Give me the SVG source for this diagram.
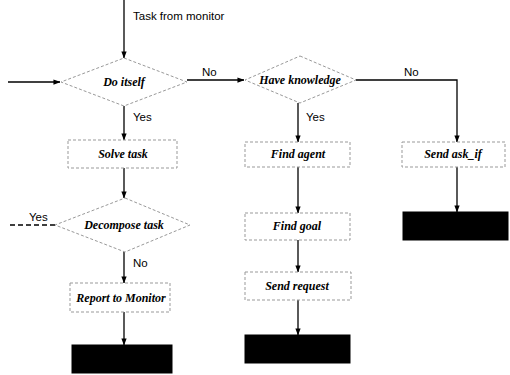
<svg xmlns="http://www.w3.org/2000/svg" width="510" height="375" viewBox="0 0 510 375">
<defs>
<marker id="ah" viewBox="0 0 8 8" refX="7.5" refY="4" markerWidth="7" markerHeight="7" orient="auto" markerUnits="userSpaceOnUse">
<path d="M0,1 L8,4 L0,7 Z" fill="#000"/>
</marker>
</defs>
<style>
.shape{fill:#fff;stroke:#999;stroke-width:1;stroke-dasharray:3 2}
.term{fill:#000;stroke:#000}
.node{font-family:"Liberation Serif","Times New Roman",serif;font-style:italic;font-weight:bold;font-size:12px;text-anchor:middle;fill:#000}
.lbl{font-family:"Liberation Sans",Arial,sans-serif;font-size:11.5px;fill:#000}
.edge{fill:none;stroke:#000;stroke-width:1.3}
.arr{marker-end:url(#ah)}
</style>
<rect width="510" height="375" fill="#fff"/>
<g id="connectors">
<line class="edge arr" x1="124" y1="0" x2="124" y2="58"/>
<line class="edge arr" x1="8" y1="82" x2="60" y2="82"/>
<line class="edge arr" x1="187" y1="80" x2="244" y2="80"/>
<polyline class="edge arr" points="356,80 457,80 457,142"/>
<line class="edge arr" x1="124" y1="106" x2="124" y2="140"/>
<line class="edge arr" x1="124" y1="168" x2="124" y2="198"/>
<line class="edge" x1="55" y1="225" x2="10" y2="225" stroke="#777" stroke-width="1" stroke-dasharray="5 3"/>
<line class="edge arr" x1="124" y1="252" x2="124" y2="283"/>
<line class="edge arr" x1="124" y1="312" x2="124" y2="345"/>
<line class="edge arr" x1="298" y1="103" x2="298" y2="142"/>
<line class="edge arr" x1="298" y1="167" x2="298" y2="213"/>
<line class="edge arr" x1="298" y1="240" x2="298" y2="272"/>
<line class="edge arr" x1="298" y1="300" x2="298" y2="335"/>
<line class="edge arr" x1="457" y1="167" x2="457" y2="212"/>
<text class="lbl" x="133" y="20">Task from monitor</text>
<text class="lbl" x="202" y="76">No</text>
<text class="lbl" x="404" y="76">No</text>
<text class="lbl" x="133" y="121">Yes</text>
<text class="lbl" x="306" y="121">Yes</text>
<text class="lbl" x="29" y="221">Yes</text>
<text class="lbl" x="133" y="267">No</text>
</g>
<g id="do-itself">
<polygon class="shape" points="124,58 187,82 124,106 61,82"/>
<text class="node" x="124" y="86">Do itself</text>
</g>
<g id="have-knowledge">
<polygon class="shape" points="300,56 356,80 300,103 245,80"/>
<text class="node" x="300" y="84">Have knowledge</text>
</g>
<g id="solve-task">
<rect class="shape" x="68" y="140" width="109" height="28"/>
<text class="node" x="123" y="158">Solve task</text>
</g>
<g id="decompose-task">
<polygon class="shape" points="125,198 190,225 125,252 55,225"/>
<text class="node" x="124" y="229">Decompose task</text>
</g>
<g id="report-to-monitor">
<rect class="shape" x="70" y="283" width="100" height="29"/>
<text class="node" x="121" y="302">Report to Monitor</text>
</g>
<g id="end-left">
<rect class="term" x="72" y="345" width="100" height="28"/>
</g>
<g id="find-agent">
<rect class="shape" x="245" y="142" width="105" height="25"/>
<text class="node" x="298" y="158">Find agent</text>
</g>
<g id="find-goal">
<rect class="shape" x="245" y="213" width="105" height="27"/>
<text class="node" x="297" y="230">Find goal</text>
</g>
<g id="send-request">
<rect class="shape" x="245" y="272" width="106" height="28"/>
<text class="node" x="297" y="290">Send request</text>
</g>
<g id="end-middle">
<rect class="term" x="245" y="335" width="105" height="28"/>
</g>
<g id="send-ask-if">
<rect class="shape" x="402" y="142" width="103" height="25"/>
<text class="node" x="453" y="158">Send ask_if</text>
</g>
<g id="end-right">
<rect class="term" x="403" y="212" width="105" height="28"/>
</g>
</svg>
